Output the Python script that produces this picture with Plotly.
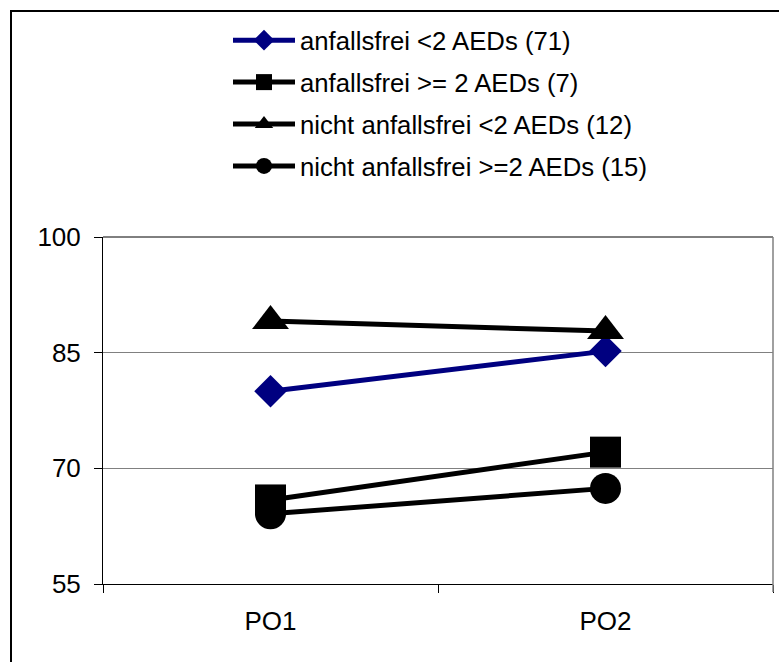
import plotly.graph_objects as go

categories = ["PO1", "PO2"]
series_names = [
    "anfallsfrei <2 AEDs (71)",
    "anfallsfrei >= 2 AEDs (7)",
    "nicht anfallsfrei <2 AEDs (12)",
    "nicht anfallsfrei >=2 AEDs (15)",
]
vals_af_lt2 = [80.0, 85.2]
vals_af_ge2 = [65.9, 72.1]
vals_naf_lt2 = [89.1, 87.8]
vals_naf_ge2 = [64.1, 67.4]
y_ticks = [55, 70, 85, 100]

series = [
    (series_names[0], vals_af_lt2, "#000080", "diamond", 25),
    (series_names[1], vals_af_ge2, "#000000", "square", 31),
    (series_names[2], vals_naf_lt2, "#000000", "triangle-up", 32),
    (series_names[3], vals_naf_ge2, "#000000", "circle", 31),
]

FONT = "Liberation Sans, Arial, Helvetica, sans-serif"

fig = go.Figure()
for i, (name, vals, color, sym, size) in enumerate(series):
    fig.add_trace(go.Scatter(
        x=categories, y=vals, name=name, mode="lines+markers",
        legendgroup="g%d" % i,
        line=dict(color=color, width=5),
        marker=dict(symbol=sym, size=size, color=color, line=dict(width=0)),
    ))

W, H = 779, 662
L, R, T, B = 103, 6, 237, 78
pw, ph = W - L - R, H - T - B

def px_x(x):
    return (x - L) / pw

def px_y(y):
    return (H - B - y) / ph

fig.update_layout(
    width=W, height=H,
    margin=dict(l=L, r=R, t=T, b=B, autoexpand=False),
    paper_bgcolor="white", plot_bgcolor="white",
    font=dict(family=FONT, color="black", size=26),
    showlegend=True,
    legend=dict(
        x=px_x(228), y=px_y(17), xanchor="left", yanchor="top",
        font=dict(family=FONT, size=25.7, color="black"),
        bgcolor="rgba(0,0,0,0)", borderwidth=0,
        tracegroupgap=5.5, itemwidth=62,
    ),
    xaxis=dict(
        type="category", range=[-0.5, 1.5], tickson="boundaries",
        showline=True, linecolor="black", linewidth=1,
        ticks="outside", ticklen=8, tickcolor="black", tickwidth=1,
        showgrid=False, zeroline=False,
        tickfont=dict(family=FONT, size=26, color="black"),
        ticklabelstandoff=14,
    ),
    yaxis=dict(
        range=[55, 100], tickvals=y_ticks,
        showline=True, linecolor="black", linewidth=1,
        ticks="outside", ticklen=8, tickcolor="black", tickwidth=1,
        showgrid=True, gridcolor="#808080", gridwidth=1, zeroline=False,
        tickfont=dict(family=FONT, size=26, color="black"),
        ticklabelstandoff=8,
    ),
    shapes=[
        dict(type="line", xref="paper", yref="paper", x0=0, x1=1, y0=1, y1=1,
             line=dict(color="black", width=1)),
        dict(type="line", xref="paper", yref="paper", x0=1, x1=1, y0=px_y(592), y1=1,
             line=dict(color="#808080", width=1.5)),
        dict(type="rect", xref="paper", yref="paper",
             x0=px_x(11), x1=px_x(790), y0=px_y(675), y1=px_y(11),
             line=dict(color="black", width=2), fillcolor="rgba(0,0,0,0)", layer="below"),
    ],
)

fig.write_html("out.html")
